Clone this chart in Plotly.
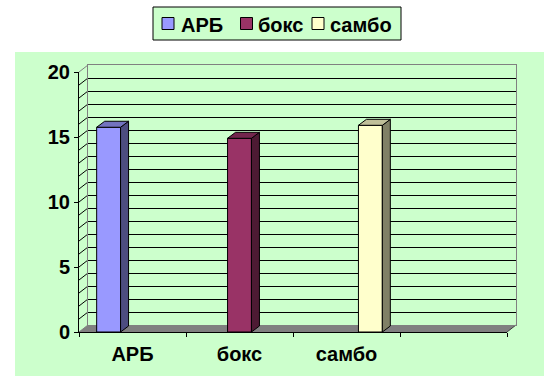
import plotly.graph_objects as go

# ---- data ----
categories = ["АРБ", "бокс", "самбо", ""]
series_names = ["АРБ", "бокс", "самбо"]
series_values = {
    "АРБ":   [15.75, None, None, None],
    "бокс":  [None, 14.9, None, None],
    "самбо": [None, None, 15.9, None],
}
front_colors = {"АРБ": "#9999FF", "бокс": "#993366", "самбо": "#FFFFCC"}
top_colors = {"АРБ": "#7373BF", "бокс": "#73264D", "самбо": "#BFBF99"}
side_colors = {"АРБ": "#4D4D80", "бокс": "#4D1A33", "самбо": "#808066"}
y_ticks = [0, 5, 10, 15, 20]

W, H = 559, 389
def px(x):
    return x / W
def py(y):
    return (H - y) / H

# front plane pixel box
FX0, FX1, FY0, FY1 = 79, 507, 332, 72
# depth offset of back wall (pixels)
DX, DY = 9, 7
BX0, BX1, BY0, BY1 = FX0 + DX, FX1 + DX, FY0 - DY, FY1 - DY

ncat = len(categories)
xpos = list(range(ncat))
ymax = 20
bargap = 0.33
nser = len(series_names)
w = (1 - bargap) / nser
unit_x = (FX1 - FX0) / ncat
unit_y = (FY0 - FY1) / ymax
bdx = 8 / unit_x   # bar depth in data units
bdy = 6 / unit_y

fig = go.Figure()

# back wall on subplot xy (drawn first)
fig.add_trace(go.Scatter(x=[0, 1], y=[0, 0], mode="lines", line=dict(width=0),
                         showlegend=False, hoverinfo="skip", xaxis="x", yaxis="y"))

# 3D faces and bars on front subplot x2y2
for i, name in enumerate(series_names):
    vals = series_values[name]
    for c, v in zip(xpos, vals):
        if v is None:
            continue
        x0 = c - (1 - bargap) / 2 + i * w
        x1 = x0 + w
        fig.add_trace(go.Scatter(
            x=[x1, x1 + bdx, x1 + bdx, x1, x1], y=[0, bdy, v + bdy, v, 0],
            fill="toself", fillcolor=side_colors[name], mode="lines",
            line=dict(color="black", width=1), showlegend=False, hoverinfo="skip",
            xaxis="x2", yaxis="y2"))
        fig.add_trace(go.Scatter(
            x=[x0, x0 + bdx, x1 + bdx, x1, x0], y=[v, v + bdy, v + bdy, v, v],
            fill="toself", fillcolor=top_colors[name], mode="lines",
            line=dict(color="black", width=1), showlegend=False, hoverinfo="skip",
            xaxis="x2", yaxis="y2"))

for name in series_names:
    fig.add_trace(go.Bar(
        x=xpos, y=series_values[name], name=name, showlegend=False,
        marker=dict(color=front_colors[name], line=dict(color="black", width=1)),
        xaxis="x2", yaxis="y2"))

bold = dict(family="Liberation Sans, Arial", size=20, color="black", weight="bold")

shapes = []
annotations = []
# green chart area
shapes.append(dict(type="rect", xref="paper", yref="paper", layer="below",
                   x0=px(15), x1=px(544), y0=py(376), y1=py(52),
                   fillcolor="#CCFFCC", line=dict(width=0)))
# floor
shapes.append(dict(type="path", xref="paper", yref="paper", layer="below",
                   path=f"M{px(FX0)},{py(FY0)} L{px(BX0)},{py(BY0)} L{px(BX1)},{py(BY0)} L{px(FX1)},{py(FY0)} Z",
                   fillcolor="#808080", line=dict(width=0)))
shapes.append(dict(type="line", xref="paper", yref="paper", layer="below",
                   x0=px(FX1), y0=py(FY0), x1=px(BX1), y1=py(BY0),
                   line=dict(color="#404040", width=1)))
# side wall lines
for k in range(ymax + 1):
    yf = FY0 - k * unit_y
    yb = BY0 - k * unit_y
    shapes.append(dict(type="line", xref="paper", yref="paper", layer="below",
                       x0=px(FX0), y0=py(yf), x1=px(BX0), y1=py(yb),
                       line=dict(color="#808080" if k in (0, ymax) else "black", width=1)))

# legend box (drawn manually to match the original spacing)
LX0, LX1, LY0, LY1 = 153, 401, 7, 40
shapes.append(dict(type="rect", xref="paper", yref="paper", layer="above",
                   x0=px(LX0), x1=px(LX1), y0=py(LY1), y1=py(LY0),
                   fillcolor="#CCFFCC", line=dict(color="black", width=1)))
legend_sq_x = [162, 240.5, 312]
legend_tx_x = [179, 256, 328]
ly = (LY0 + LY1) / 2
for name, sx, tx in zip(series_names, legend_sq_x, legend_tx_x):
    shapes.append(dict(type="rect", xref="paper", yref="paper", layer="above",
                       x0=px(sx), x1=px(sx + 12), y0=py(ly + 6), y1=py(ly - 6),
                       fillcolor=front_colors[name], line=dict(color="black", width=1)))
    annotations.append(dict(text=name, xref="paper", yref="paper", x=px(tx), y=py(ly + 1),
                            xanchor="left", yanchor="middle", showarrow=False, font=bold))

fig.update_layout(
    width=W, height=H,
    margin=dict(l=0, r=0, t=0, b=0, autoexpand=False),
    paper_bgcolor="white",
    plot_bgcolor="rgba(0,0,0,0)",
    barmode="group", bargap=bargap, bargroupgap=0,
    shapes=shapes,
    annotations=annotations,
    font=dict(family="Liberation Sans, Arial", size=20, color="black"),
    showlegend=False,
    xaxis=dict(domain=[px(BX0), px(BX1)], range=[0, 1], showgrid=False, zeroline=False,
               showticklabels=False, ticks="", showline=True, mirror=True,
               linecolor="#808080", linewidth=1, fixedrange=True),
    yaxis=dict(domain=[py(BY0), py(BY1)], range=[0, ymax], dtick=1, showgrid=True,
               gridcolor="black", gridwidth=1, zeroline=False, showticklabels=False,
               ticks="", showline=True, mirror=True, linecolor="#808080", linewidth=1,
               fixedrange=True),
    xaxis2=dict(domain=[px(FX0), px(FX1)], range=[-0.5, ncat - 0.5], anchor="y2",
                showgrid=False, zeroline=False, showline=True, linecolor="black", linewidth=1,
                tickmode="array", tickvals=xpos[:3], ticktext=categories[:3], ticks="",
                ticklabelstandoff=4, tickfont=bold,
                minor=dict(tickmode="array", tickvals=[c - 0.5 for c in range(ncat + 1)],
                           ticks="outside", ticklen=4, tickcolor="black", showgrid=False),
                fixedrange=True),
    yaxis2=dict(domain=[py(FY0), py(FY1)], range=[0, ymax], anchor="x2",
                showgrid=False, zeroline=False, showline=True, linecolor="black", linewidth=1,
                tickmode="array", tickvals=y_ticks, ticks="outside", ticklen=4,
                tickcolor="black", tickfont=bold, fixedrange=True),
)

fig.write_html("out.html")
